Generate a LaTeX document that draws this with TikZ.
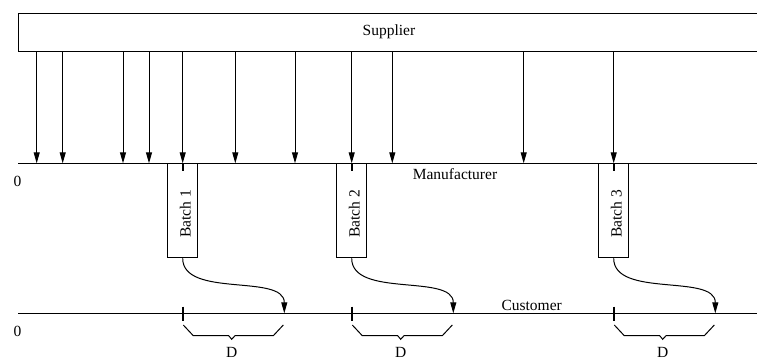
\documentclass[tikz,border=0pt]{standalone}
\usepackage{fontspec}
\setmainfont{Liberation Serif}
\usetikzlibrary{arrows.meta}
\begin{document}
\begin{tikzpicture}[x=1pt,y=-1pt,
  line width=1pt,
  lbl/.style={font=\fontsize{15.5}{18}\selectfont, inner sep=0pt},
  flow/.style={-{Triangle[length=11pt,width=6pt]}},
  batchbox/.style={draw, minimum width=30.4pt, minimum height=94pt, inner sep=0pt, anchor=north},
  tickmark/.style={line width=2.2pt},
  bracket/.style={line width=1pt, line join=miter}
]
\useasboundingbox (0,0) rectangle (757,360);

% Supplier box (open to the right edge)
\draw (757,13) -| (18,51) -- (757,51);
\node[lbl] (sup) at (389,32) {Supplier};

% Time lines
\coordinate (mL) at (18,163.3);
\coordinate (mR) at (757,163.3);
\coordinate (cL) at (18,313.3);
\coordinate (cR) at (757,313.3);
\draw (mL) -- (mR);
\draw (cL) -- (cR);

\node[lbl] (z1) at (17.5,181.7) {0};
\node[lbl] (z2) at (17.5,331.7) {0};
\node[lbl] (man) at (455,174) {Manufacturer};
\node[lbl] (cus) at (531.7,305) {Customer};

% Supplier deliveries
\foreach \x [count=\i] in {36.7,62.7,123,149,182.7,235.3,295,351.7,392.3,523.7,613.7} {
  \coordinate (s\i) at (\x,51);
  \coordinate (m\i) at (\x,163.3);
  \draw[flow] (s\i) -- (m\i);
}

% Batches
\foreach \x/\n in {182.7/1,351.7/2,613.7/3} {
  \node[batchbox] (b\n) at (\x,163.3) {};
  \node[lbl, rotate=90] (bt\n) at (\x+2.5,214) {Batch \n};
  \coordinate (mt\n) at (\x,163.3);
  \coordinate (mb\n) at (\x,171);
  \draw[tickmark] (mt\n) -- (mb\n);
  \coordinate (ct\n) at (\x,306.7);
  \coordinate (cb\n) at (\x,320.7);
  \draw[tickmark] (ct\n) -- (cb\n);
  \coordinate (c\n) at (\x+101.6,313.3);
  \draw[flow] (b\n.south) .. controls +(0,40) and +(0,-40) .. (c\n);
  \draw[bracket] (\x+0.6,325) -- (\x+10.6,335.7) -- (\x+46,335.7) -- (\x+49,339.3)
     -- (\x+52.3,335.7) -- (\x+90.6,335.7) -- (\x+100.6,325);
  \node[lbl] (d\n) at (\x+49,352) {D};
}
\end{tikzpicture}
\end{document}
